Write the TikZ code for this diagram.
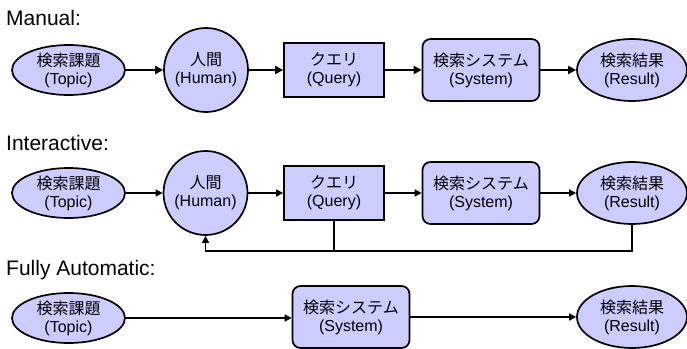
\documentclass[tikz,border=0pt]{standalone}
\usepackage{fontspec}
\setmainfont{Liberation Sans}
\newfontfamily\cjk{Noto Sans CJK JP}
\usetikzlibrary{shapes.geometric,arrows.meta}
\definecolor{nodefill}{HTML}{CCCCFF}
\tikzset{
  base/.style={draw=black, line width=1.7pt, fill=nodefill, align=center, inner sep=0pt,
    font=\fontsize{16}{18}\selectfont},
  topicnode/.style={base, ellipse, minimum width=113pt, minimum height=50pt},
  humannode/.style={base, circle, minimum size=84pt},
  querynode/.style={base, rectangle, minimum width=100pt, minimum height=54pt},
  sysnode/.style={base, rectangle, rounded corners=8pt, minimum width=117pt, minimum height=62pt},
  resnode/.style={base, ellipse, minimum width=110pt, minimum height=62pt},
  title/.style={anchor=base west, inner sep=0pt, font=\fontsize{21}{24}\selectfont},
  thickarrow/.style={line width=2.4pt, -{Triangle[length=8pt,width=8pt]}},
  thinarrow/.style={line width=1.5pt, -{Triangle[length=7pt,width=7pt]}},
  thinline/.style={line width=1.5pt}
}
\begin{document}
\begin{tikzpicture}[x=1pt,y=-1pt]
\useasboundingbox (0,0) rectangle (687,348);
% Row 1: Manual
\node[title] (t1) at (6,25) {Manual:};
\node[topicnode] (a1) at (68.5,70) {{\cjk 検索課題}\\(Topic)};
\node[humannode] (b1) at (206,70) {{\cjk 人間}\\(Human)};
\node[querynode] (c1) at (334,70) {{\cjk クエリ}\\(Query)};
\node[sysnode] (d1) at (481,70) {{\cjk 検索システム}\\(System)};
\node[resnode] (e1) at (632,70) {{\cjk 検索結果}\\(Result)};
\draw[thickarrow] (a1) -- (b1);
\draw[thickarrow] (b1) -- (c1);
\draw[thickarrow] (c1) -- (d1);
\draw[thickarrow] (d1) -- (e1);
% Row 2: Interactive
\node[title] (t2) at (6,150) {Interactive:};
\node[topicnode] (a2) at (68.5,193) {{\cjk 検索課題}\\(Topic)};
\node[humannode] (b2) at (205.5,193) {{\cjk 人間}\\(Human)};
\node[querynode] (c2) at (334,193) {{\cjk クエリ}\\(Query)};
\node[sysnode] (d2) at (481,193) {{\cjk 検索システム}\\(System)};
\node[resnode] (e2) at (632,193) {{\cjk 検索結果}\\(Result)};
\draw[thinarrow] (a2) -- (b2);
\draw[thinarrow] (b2) -- (c2);
\draw[thinarrow] (c2) -- (d2);
\draw[thinarrow] (d2) -- (e2);
\coordinate (fb) at (0,251);
\draw[thinline] (c2.south) -- (c2.south |- fb);
\draw[thinarrow] (e2.south) -- (e2.south |- fb) -| (b2.south);
% Row 3: Fully Automatic
\node[title] (t3) at (6,275) {Fully Automatic:};
\node[topicnode] (a3) at (68.5,318) {{\cjk 検索課題}\\(Topic)};
\node[sysnode] (d3) at (351,317) {{\cjk 検索システム}\\(System)};
\node[resnode] (e3) at (632,317) {{\cjk 検索結果}\\(Result)};
\draw[thinarrow] (a3.east) -- (a3.east -| d3.west);
\draw[thinarrow] (d3.east) -- (d3.east -| e3.west);
\end{tikzpicture}
\end{document}
